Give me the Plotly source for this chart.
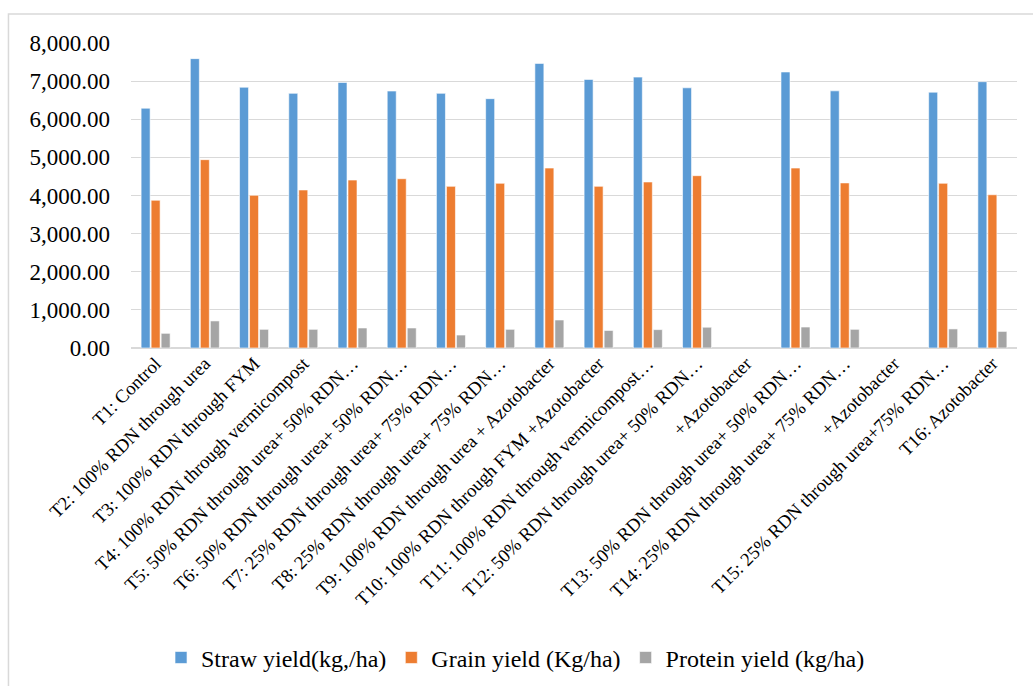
import plotly.graph_objects as go

# Treatment labels (two "+Azotobacter" rows carry no data)
treatments = [
    "T1: Control",
    "T2: 100% RDN through urea",
    "T3: 100% RDN through FYM",
    "T4: 100% RDN through vermicompost",
    "T5: 50% RDN through urea+ 50% RDN…",
    "T6: 50% RDN through urea+ 50% RDN…",
    "T7: 25% RDN through urea+ 75% RDN…",
    "T8: 25% RDN through urea+ 75% RDN…",
    "T9: 100% RDN through urea + Azotobacter",
    "T10: 100% RDN through FYM +Azotobacter",
    "T11: 100% RDN through vermicompost…",
    "T12: 50% RDN through urea+ 50% RDN…",
    "+Azotobacter",
    "T13: 50% RDN through urea+ 50% RDN…",
    "T14: 25% RDN through urea+ 75% RDN…",
    "+Azotobacter",
    "T15: 25% RDN through urea+75% RDN…",
    "T16: Azotobacter",
]

straw_yield = [6290, 7590, 6840, 6680, 6965, 6740, 6680, 6540, 7465, 7045,
               7105, 6825, None, 7240, 6745, None, 6710, 6985]
grain_yield = [3875, 4940, 4005, 4145, 4405, 4440, 4240, 4320, 4720, 4240,
               4355, 4520, None, 4720, 4330, None, 4320, 4020]
protein_yield = [385, 710, 490, 490, 525, 525, 340, 490, 735, 460,
                 482, 545, None, 550, 490, None, 500, 435]

positions = list(range(len(treatments)))

series = [
    ("Straw yield(kg,/ha)", straw_yield, "#5B9BD5"),
    ("Grain yield (Kg/ha)", grain_yield, "#ED7D31"),
    ("Protein yield (kg/ha)", protein_yield, "#A5A5A5"),
]

fig = go.Figure()
for name, vals, color in series:
    fig.add_trace(go.Bar(
        x=positions, y=vals, name=name,
        marker=dict(color=color, line=dict(color="white", width=0.6)),
    ))

serif = "Liberation Serif"

fig.update_layout(
    width=1033, height=686,
    margin=dict(l=131, r=16, t=43, b=338, autoexpand=False),
    paper_bgcolor="white", plot_bgcolor="white",
    barmode="group", bargap=0.39, bargroupgap=0.1,
    font=dict(family=serif, color="black"),
    showlegend=True,
    legend=dict(
        orientation="h", x=0.434, xanchor="center", y=-1.016, yanchor="middle",
        font=dict(size=24, family=serif, color="black"),
        traceorder="normal",
    ),
    xaxis=dict(
        tickmode="array", tickvals=positions, ticktext=treatments,
        tickangle=-45, tickfont=dict(size=18.7, family=serif, color="black"),
        range=[-0.5, len(treatments) - 0.5], automargin=False,
        showgrid=False, showline=False, zeroline=False, ticks="",
    ),
    yaxis=dict(
        range=[0, 8000], dtick=1000, tickformat=",.2f",
        tickfont=dict(size=23, family=serif, color="black"),
        showgrid=True, gridcolor="#d9d9d9", gridwidth=1.3,
        zeroline=True, zerolinecolor="#d9d9d9", zerolinewidth=2,
        showline=False, ticks="", ticklabelstandoff=20, automargin=False,
    ),
    shapes=[dict(
        type="rect", xref="paper", yref="paper",
        x0=-0.1383, x1=1.05, y0=-1.2, y1=1.095,
        line=dict(color="#d9d9d9", width=1.5), fillcolor="rgba(0,0,0,0)",
        layer="below",
    )],
)

fig.write_html("out.html")
